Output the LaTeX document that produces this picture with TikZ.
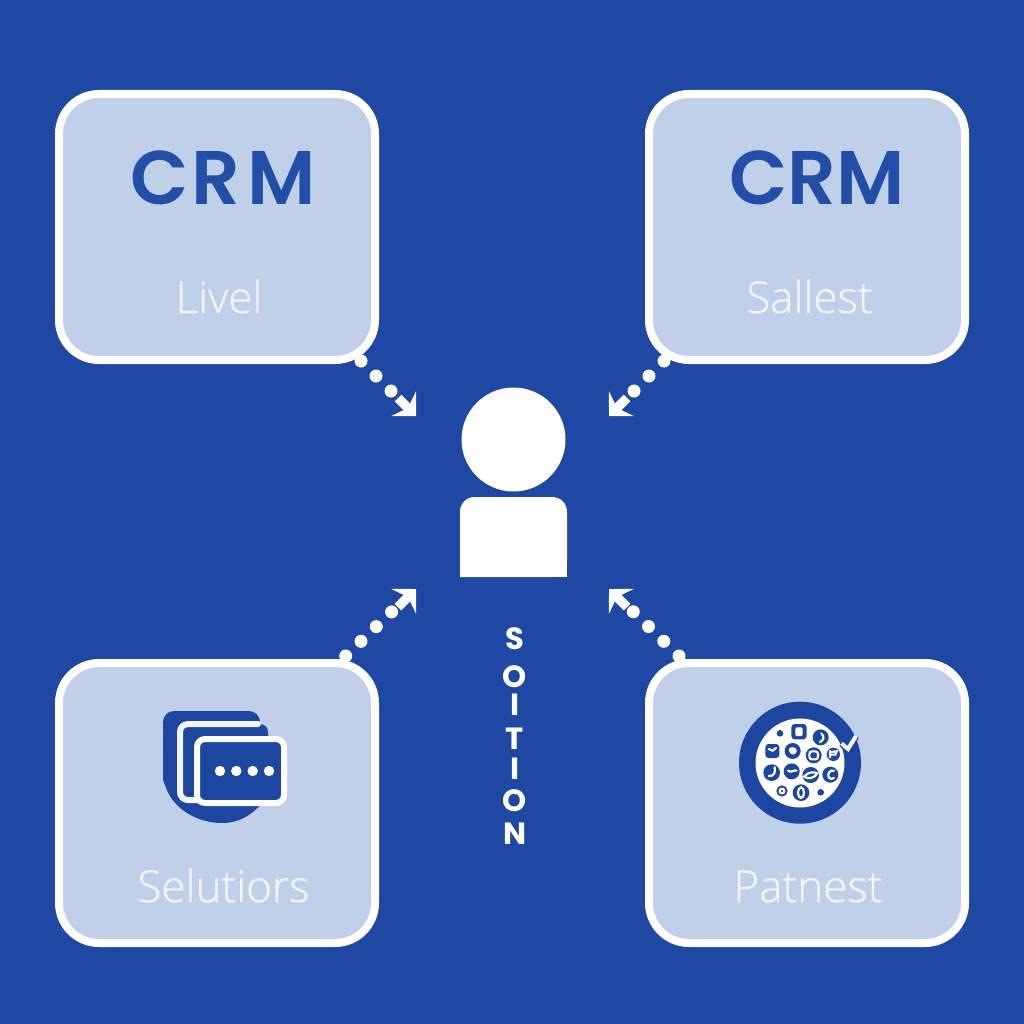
\documentclass[tikz,border=0pt]{standalone}
\usepackage{fontspec}
\usetikzlibrary{arrows.meta}
\setmainfont{Open Sans Light}[FakeBold=0.5]
\newfontfamily\crmfont{Poppins SemiBold}
\newfontfamily\wordfont{Poppins Bold}
\definecolor{bgblue}{RGB}{30,72,163}
\definecolor{cardfill}{RGB}{192,208,232}
\definecolor{inkblue}{RGB}{34,78,168}
\definecolor{iconblue}{RGB}{28,70,160}
\definecolor{softwhite}{RGB}{242,246,252}
\tikzset{
  panel/.style={draw=white,fill=cardfill,line width=6pt,rounded corners=30pt,minimum width=237pt,inner sep=0pt,outer sep=0pt},
  shortpanel/.style={panel,minimum height=199.5pt},
  tallpanel/.style={panel,minimum height=210pt},
  crm/.style={text=inkblue,inner sep=0pt,anchor=base west,font=\crmfont\fontsize{57}{57}\selectfont},
  caption/.style={text=softwhite,inner sep=0pt,anchor=base,font=\fontsize{33}{33}\selectfont},
  dots/.style={draw=white,line width=9.75pt,line cap=round,dash pattern=on 0pt off 15.91pt},
  headline/.style={draw=white,line width=7pt,-{Stealth[length=13pt,width=26pt,inset=4.5pt]}},
  glyph/.style={draw=white,line width=1.6pt,line cap=round,fill=none},
}
\begin{document}
\begin{tikzpicture}[x=0.75pt,y=-0.75pt]
\useasboundingbox (0,0) rectangle (1024,1024);
\fill[bgblue] (0,0) rectangle (1024,1024);

% panels
\node[shortpanel] (boxA) at (217,227) {};
\node[shortpanel] (boxB) at (807,227) {};
\node[tallpanel] (boxC) at (217,803) {};
\node[tallpanel] (boxD) at (807,803) {};

% panel texts
\node[crm] (crmA) at (130,204) {C\kern 2.5pt R\kern 5pt M};
\node[crm] (crmB) at (729,204) {CRM};
\node[caption] (capA) at (219,313) {Livel};
\node[caption] (capB) at (809.5,313) {Sallest};
\node[caption] (capC) at (223.5,902) {Selutiors};
\node[caption] (capD) at (808,902) {Patnest};

% person
\node[circle,fill=white,minimum size=78pt,inner sep=0pt] (head) at (513.5,439.5) {};
\fill[white,rounded corners=11pt] (460,577) -- (460,497) -- (567,497) -- (567,577) [sharp corners] -- cycle;
\fill[white] (460,560) rectangle (567,577);

% vertical word
\node[text=white,inner sep=0pt,align=center,font=\wordfont\fontsize{23}{24}\selectfont] (word) at (515,736)
  {S\\[4.5pt]O\\[-3pt]I\\[1pt]T\\[-1.5pt]I\\O\\[0.75pt]N};

% connectors
\coordinate (a0) at (361,361); \coordinate (a1) at (392,392); \coordinate (a2) at (398,398); \coordinate (a3) at (416,416);
\coordinate (b0) at (664,361); \coordinate (b1) at (633,392); \coordinate (b2) at (627,398); \coordinate (b3) at (609,416);
\coordinate (c0) at (345.7,656); \coordinate (c1) at (392,611.5); \coordinate (c2) at (398,607); \coordinate (c3) at (416,589);
\coordinate (d0) at (679,656); \coordinate (d1) at (633,611.5); \coordinate (d2) at (627,607); \coordinate (d3) at (609,589);
\foreach \k in {a,b,c,d}{
  \draw[dots] (\k0) -- (\k1);
  \draw[headline] (\k2) -- (\k3);
}

% stacked cards icon
\fill[iconblue] (163,722) arc[start angle=180,end angle=270,radius=11] -- (249,711) arc[start angle=-90,end angle=0,radius=11] -- (265,800)
  .. controls (250,818) and (236,823) .. (222,823) .. controls (196,823) and (172,808) .. (165,785) -- (163,780) -- cycle;
\fill[iconblue,rounded corners=6pt] (180,724) rectangle (268,800);
\draw[softwhite,line width=4.5pt,rounded corners=6pt,line cap=round] (197,800) -- (180,800) -- (180,724) -- (258,724);
\draw[white,fill=iconblue,line width=4.5pt,rounded corners=6pt] (197,739) rectangle (284,803);
\foreach \x in {220,236.3,252.7,269} \fill[white] (\x,771) circle (5.2);

% round icon
\fill[iconblue] (800,762.7) circle (61);
\fill[white] (800,763) circle (44.5);
\draw[iconblue,line width=5pt] (841.5,743.5) -- (848,749) -- (856,736);
\draw[white,line width=3pt] (841.5,743.5) -- (848,749) -- (856,736);
\begin{scope}[shift={(720,680)},x=0.25pt,y=-0.25pt]
  \fill[iconblue] (180,160) circle (10) (302,337) circle (10);
  \fill[iconblue,rounded corners=2.5pt] (214,132) rectangle (260,178);
  \fill[white,rounded corners=1pt] (226,142) rectangle (248,168);
  \fill[iconblue,rounded corners=2.5pt] (136,192) rectangle (178,234);
  \draw[glyph] (146,207) -- (158,212) -- (168,204);
  \foreach \x/\y/\r in {302/172/24,218/213/24,281/226/24,340/223/20,155/278/25,215/274/24,331/284/24,186/333/17,243/338/25}
    \fill[iconblue] (\x,\y) circle (\r);
  \fill[iconblue] (272,285) ellipse (25 and 24);
  \draw[glyph] (304,160) .. controls (314,170) and (312,180) .. (300,186);
  \fill[white] (208,204) .. controls (220,198) and (232,204) .. (230,214) .. controls (228,224) and (216,226) .. (212,220) .. controls (206,216) and (204,208) .. (208,204) -- cycle;
  \draw[glyph,rounded corners=2pt] (268,214) rectangle (294,238);
  \draw[glyph] (330,212) -- (330,232) (332,216) -- (350,214) -- (346,224) -- (332,224);
  \draw[glyph] (164,262) .. controls (168,278) and (160,290) .. (146,288);
  \draw[glyph] (204,272) .. controls (214,280) and (222,268) .. (230,272);
  \draw[glyph] (252,290) .. controls (264,276) and (280,274) .. (292,280) .. controls (282,296) and (264,298) .. (252,290) -- cycle;
  \draw[glyph] (342,272) .. controls (328,268) and (322,284) .. (326,292) .. controls (330,298) and (338,298) .. (342,294);
  \draw[glyph] (186,333) circle (7);
  \draw[glyph] (243,338) ellipse (9 and 16);
\end{scope}
\end{tikzpicture}
\end{document}
